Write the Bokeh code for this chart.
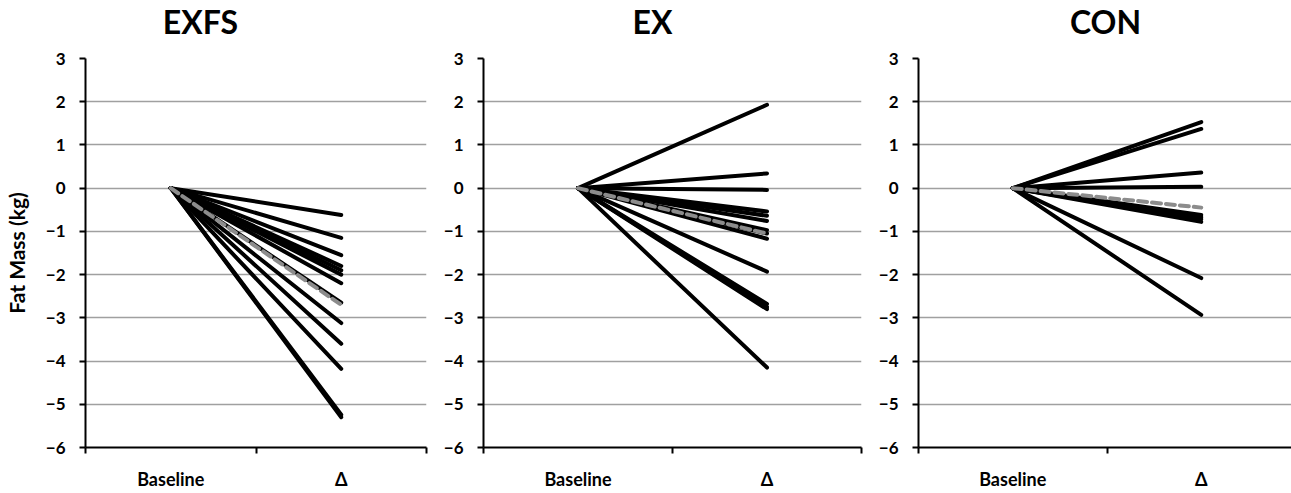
from bokeh.plotting import figure
from bokeh.layouts import row, column
from bokeh.models import FixedTicker, Range1d
from bokeh.core.properties import value
from bokeh.embed import file_html
from bokeh.resources import INLINE

# ---- data (change in fat mass, kg) ----
categories = ["Baseline", "Δ"]
y_ticks = [-6, -5, -4, -3, -2, -1, 0, 1, 2, 3]
titles = ["EXFS", "EX", "CON"]

exfs_baseline = 0.0
exfs_delta = [-0.62, -1.15, -1.55, -1.80, -1.90, -2.00, -2.20, -2.65, -3.12, -3.60, -4.18, -5.24, -5.30]
exfs_mean = -2.70

ex_baseline = 0.0
ex_delta = [1.93, 0.34, -0.04, -0.54, -0.64, -0.76, -0.97, -1.05, -1.17, -1.93, -2.68, -2.75, -2.80, -4.15]
ex_mean = -1.05

con_baseline = 0.0
con_delta = [1.53, 1.37, 0.36, 0.03, -0.62, -0.67, -0.72, -0.78, -2.08, -2.93]
con_mean = -0.45

panels = [
    (exfs_baseline, exfs_delta, exfs_mean),
    (ex_baseline, ex_delta, ex_mean),
    (con_baseline, con_delta, con_mean),
]

FONT = "Lato"
FRAME_H = 389
TITLE_H = 40
TOTAL_W = 1281
cat_pos = [i + 0.5 for i in range(len(categories))]

# layout: frame widths / borders, and title centres (px from left of layout)
geom = [
    dict(frame_width=341, min_border_left=75, min_border_right=14),
    dict(frame_width=378, min_border_left=40, min_border_right=14),
    dict(frame_width=377, min_border_left=42, min_border_right=0),
]
title_x = [200, 652, 1105]

# title strip
tf = figure(width=TOTAL_W, height=TITLE_H, x_range=Range1d(0, TOTAL_W), y_range=Range1d(0, TITLE_H),
            x_axis_type=None, y_axis_type=None, min_border=0,
            output_backend="svg", toolbar_location=None)
tf.outline_line_color = None
tf.xgrid.visible = False
tf.ygrid.visible = False
tf.text(x=title_x, y=[TITLE_H - 21] * len(titles), text=titles,
        text_font=value(FONT), text_font_style="bold", text_font_size="32px",
        text_color="black", text_align="center", text_baseline="middle")

figs = []
for idx, (base, deltas, mean) in enumerate(panels):
    g = geom[idx]
    p = figure(frame_width=g["frame_width"], frame_height=FRAME_H,
               min_border_left=g["min_border_left"], min_border_right=g["min_border_right"],
               min_border_top=58 - TITLE_H, min_border_bottom=30,
               x_range=Range1d(0, len(categories)), y_range=Range1d(y_ticks[0], y_ticks[-1]),
               output_backend="svg", toolbar_location=None)
    p.outline_line_color = None
    p.background_fill_color = "white"
    p.border_fill_color = "white"

    # x axis: labels at category centres, ticks at category boundaries
    p.xaxis.ticker = FixedTicker(ticks=cat_pos, minor_ticks=list(range(len(categories) + 1)))
    p.xaxis.major_label_overrides = {cat_pos[i]: categories[i] for i in range(len(categories))}
    p.xaxis.major_tick_out = 0
    p.xaxis.major_tick_in = 0
    p.xaxis.minor_tick_out = 6
    p.xaxis.minor_tick_in = 0
    p.xaxis.minor_tick_line_color = "black"
    p.xaxis.minor_tick_line_width = 2
    p.xaxis.axis_line_color = "black"
    p.xaxis.axis_line_width = 2
    p.xaxis.major_label_standoff = 14
    p.xaxis.major_label_text_font = FONT
    p.xaxis.major_label_text_font_style = "bold"
    p.xaxis.major_label_text_font_size = "18px"
    p.xaxis.major_label_text_color = "black"
    p.xgrid.visible = False

    p.yaxis.ticker = FixedTicker(ticks=y_ticks, minor_ticks=[])
    p.yaxis.major_tick_out = 6
    p.yaxis.major_tick_in = 0
    p.yaxis.major_tick_line_color = "black"
    p.yaxis.major_tick_line_width = 2
    p.yaxis.axis_line_color = "black"
    p.yaxis.axis_line_width = 2
    p.yaxis.major_label_standoff = 14
    p.yaxis.major_label_text_font = FONT
    p.yaxis.major_label_text_font_style = "bold"
    p.yaxis.major_label_text_font_size = "17px"
    p.yaxis.major_label_text_color = "black"
    p.ygrid.grid_line_color = "#a0a0a0"
    p.ygrid.grid_line_width = 1.5
    if idx == 0:
        p.yaxis.axis_label = "Fat Mass (kg)"
        p.yaxis.axis_label_text_font = FONT
        p.yaxis.axis_label_text_font_style = "bold"
        p.yaxis.axis_label_text_font_size = "21px"
        p.yaxis.axis_label_text_color = "black"
        p.yaxis.axis_label_standoff = 14

    xs = [cat_pos for _ in deltas]
    ys = [[base, d] for d in deltas]
    p.multi_line(xs, ys, line_color="black", line_width=4, line_cap="round")
    p.line(cat_pos, [base, mean], line_color="#8c8c8c", line_width=4,
           line_dash="9 5", line_cap="round")
    figs.append(p)

layout = column(tf, row(*figs, spacing=0), spacing=0)
html = file_html(layout, INLINE)
html = html.replace("<head>", "<head><style>html,body{overflow:hidden;}</style>", 1)
open("out.html", "w").write(html)
